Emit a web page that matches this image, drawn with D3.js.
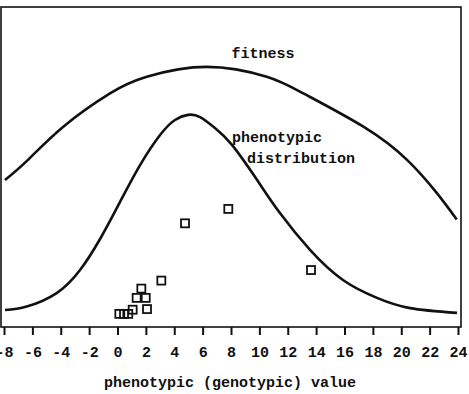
<!DOCTYPE html>
<html>
<head>
<meta charset="utf-8">
<script src="https://cdn.jsdelivr.net/npm/d3@7"></script>
<style>
  html, body { margin: 0; padding: 0; background: #fff; }
  svg { display: block; }
  text { font-family: "Liberation Mono", "Courier New", monospace; font-weight: bold; fill: #111; }
</style>
</head>
<body>
<svg id="chart" width="469" height="394"></svg>
<script>
// ---- data ----
const tickValues = [-8, -6, -4, -2, 0, 2, 4, 6, 8, 10, 12, 14, 16, 18, 20, 22, 24];
const tickLabels = ["-8", "-6", "-4", "-2", "0", "2", "4", "6", "8", "10", "12", "14", "16", "18", "20", "22", "24"];

// fitness curve (x value, relative height 0-100)
const fitnessX = [-7.93, -6.29, -3.82, -0.53, 2.06, 6.29, 10.52, 13.10, 17.33, 20.39, 22.50, 23.91];
const fitnessY = [45.9, 52.3, 62.6, 73.0, 78.2, 81.3, 78.2, 73.0, 62.6, 52.3, 41.9, 33.6];

// phenotypic distribution curve
const phenoX = [-7.93, -6.40, -4.29, -2.64, -1.23, 0.18, 1.59, 3.00, 4.05, 4.97, 5.82, 6.87, 8.07, 9.83, 11.45, 13.57, 15.89, 18.29, 20.62, 23.93];
const phenoY = [5.3, 6.4, 10.6, 17.8, 27.5, 39.1, 50.6, 60.0, 64.7, 66.3, 65.6, 62.2, 56.9, 46.0, 35.6, 24.1, 14.7, 9.1, 5.9, 4.4];

// observed points (squares)
const pointsX = [0.13, 0.46, 0.76, 1.07, 2.08, 1.35, 1.99, 1.68, 3.09, 4.76, 7.81, 13.64];
const pointsY = [4.1, 4.1, 4.1, 5.4, 5.6, 9.1, 9.1, 12.0, 14.5, 32.4, 36.9, 17.8];

const xTitle = "phenotypic (genotypic) value";
const fitnessLabel = "fitness";
const phenoLabel = ["phenotypic", "distribution"];

// ---- drawing ----
const svg = d3.select("#chart");
const frame = { left: 1, top: 7, right: 461, bottom: 327 };

const x = d3.scaleLinear().domain([-8, 24]).range([4, 458]);
const y = d3.scaleLinear().domain([0, 100]).range([frame.bottom, frame.top]);

// frame
svg.append("rect")
  .attr("x", frame.left).attr("y", frame.top)
  .attr("width", frame.right - frame.left).attr("height", frame.bottom - frame.top)
  .attr("fill", "none").attr("stroke", "#111").attr("stroke-width", 1.6);

// axis
const axis = d3.axisBottom(x)
  .tickValues(tickValues)
  .tickFormat((d, i) => tickLabels[i])
  .tickSize(8).tickSizeOuter(0).tickPadding(11);
const gAxis = svg.append("g").attr("transform", `translate(0,${frame.bottom})`).call(axis);
gAxis.select(".domain").remove();
gAxis.selectAll(".tick line").attr("stroke", "#111").attr("stroke-width", 2);
gAxis.selectAll(".tick text")
  .attr("font-family", "Liberation Mono, Courier New, monospace")
  .attr("font-weight", "bold").attr("font-size", 15).attr("fill", "#111");

svg.append("text").attr("x", 230).attr("y", 387).attr("text-anchor", "middle")
  .attr("font-size", 15).text(xTitle);

// curves
const line = d3.line().x(d => x(d[0])).y(d => y(d[1])).curve(d3.curveNatural);
svg.append("path").datum(fitnessX.map((v, i) => [v, fitnessY[i]]))
  .attr("d", line).attr("fill", "none").attr("stroke", "#111").attr("stroke-width", 2.6);
svg.append("path").datum(phenoX.map((v, i) => [v, phenoY[i]]))
  .attr("d", line).attr("fill", "none").attr("stroke", "#111").attr("stroke-width", 2.6);

// points
const s = 8;
svg.append("g").selectAll("rect").data(pointsX.map((v, i) => [v, pointsY[i]])).join("rect")
  .attr("x", d => x(d[0]) - s / 2).attr("y", d => y(d[1]) - s / 2)
  .attr("width", s).attr("height", s)
  .attr("fill", "none").attr("stroke", "#111").attr("stroke-width", 1.8);

// labels
svg.append("text").attr("x", 263).attr("y", 58).attr("text-anchor", "middle")
  .attr("font-size", 15).text(fitnessLabel);
svg.append("text").attr("x", 232).attr("y", 142).attr("font-size", 15).text(phenoLabel[0]);
svg.append("text").attr("x", 247).attr("y", 163).attr("font-size", 15).text(phenoLabel[1]);
</script>
</body>
</html>
